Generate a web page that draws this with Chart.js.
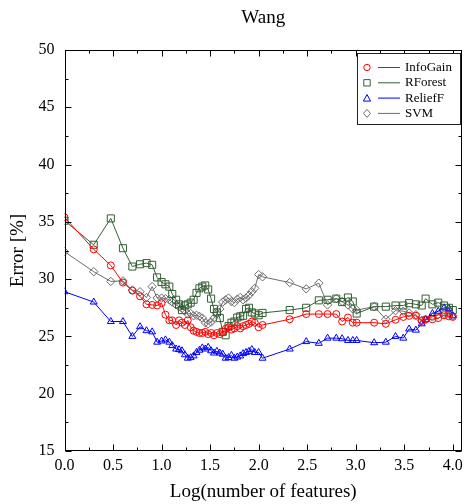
<!DOCTYPE html>
<html>
<head>
<meta charset="utf-8">
<script src="https://cdn.jsdelivr.net/npm/chart.js@4/dist/chart.umd.min.js"></script>
<style>
  html, body { margin: 0; padding: 0; background: #fff; }
  canvas { display: block; }
</style>
</head>
<body>
<canvas id="c" width="468" height="504"></canvas>
<script>
// ---- data ----
const xs = [0, 0.301, 0.477, 0.602, 0.699, 0.778, 0.845, 0.903, 0.954, 1.0,
  1.04, 1.08, 1.11, 1.15, 1.18, 1.21, 1.24, 1.27, 1.30, 1.33,
  1.36, 1.39, 1.42, 1.45, 1.48, 1.51, 1.54, 1.57, 1.60, 1.63,
  1.66, 1.69, 1.72, 1.75, 1.78, 1.81, 1.84, 1.87, 1.90, 1.93,
  1.96, 2.0, 2.04, 2.32, 2.49, 2.62, 2.71, 2.80, 2.86, 2.92,
  2.97, 3.01, 3.19, 3.31, 3.41, 3.49, 3.55, 3.62, 3.68, 3.72,
  3.79, 3.85, 3.91, 3.96, 4.0];

const infoGain = [35.4, 32.6, 31.2, 29.7, 29.0, 28.5, 27.8, 27.75, 27.7, 27.9,
  26.9, 26.4, 26.4, 26.0, 26.4, 26.2, 26.0, 26.4, 25.8, 25.5,
  25.4, 25.3, 25.3, 25.4, 25.2, 25.3, 25.1, 25.3, 25.2, 25.4,
  25.65, 25.8, 25.6, 25.7, 25.9, 25.7, 25.9, 26.0, 26.1, 26.3,
  26.2, 25.8, 26.0, 26.5, 26.95, 26.95, 26.95, 26.95, 26.3, 26.65,
  26.2, 26.2, 26.2, 26.1, 26.45, 26.7, 26.8, 26.8, 26.35, 26.5,
  26.5, 26.6, 26.85, 26.75, 26.7];

const rForest = [35.1, 33.0, 35.3, 32.7, 31.1, 31.3, 31.4, 31.25, 30.15, 29.75,
  29.55, 29.35, 28.7, 28.2, 27.8, 27.3, 27.7, 27.8, 27.95, 28.2,
  28.8, 29.2, 29.35, 29.45, 29.1, 28.3, 27.4, 27.1, 26.6, 25.4,
  25.1, 25.9, 26.2, 26.3, 26.65, 26.75, 26.8, 27.4, 27.5, 27.1,
  27.0, 26.85, 27.05, 27.3, 27.5, 28.15, 28.2, 28.3, 28.0, 28.4,
  28.05, 27.0, 27.6, 27.6, 27.7, 27.7, 27.9, 27.8, 27.7, 28.3,
  27.8, 27.95, 27.7, 27.5, 27.3];

const reliefF = [28.9, 28.0, 26.3, 26.3, 25.0, 25.85, 25.5, 25.4, 24.5, 24.6,
  24.7, 24.5, 24.2, 23.9, 23.85, 23.75, 23.4, 23.1, 23.15, 23.3,
  23.6, 23.8, 24.0, 23.9, 24.05, 23.75, 23.55, 23.7, 23.55, 23.45,
  23.1, 23.15, 23.35, 23.1, 23.2, 23.3, 23.5, 23.6, 23.7, 23.85,
  23.6, 23.6, 23.1, 23.9, 24.55, 24.4, 24.85, 24.85, 24.8, 24.65,
  24.65, 24.65, 24.45, 24.5, 25.0, 24.85, 25.65, 25.55, 26.1, 26.45,
  27.0, 27.2, 27.5, 27.45, 26.8];

const svm = [32.4, 30.65, 29.8, 29.85, 29.05, 28.9, 28.4, 29.35, 28.35, 28.35,
  28.3, 28.2, 28.0, 27.75, 27.6, 27.45, 27.25, 26.95, 27.0, 26.8,
  26.85, 26.75, 26.6, 26.2, 26.1, 26.25, 26.6, 27.0, 27.4, 28.0,
  28.2, 28.35, 28.05, 27.95, 28.25, 28.4, 28.2, 28.35, 28.6, 28.9,
  29.2, 30.4, 30.2, 29.7, 29.15, 29.65, 27.75, 28.3, 28.05, 27.75,
  27.4, 27.3, 27.6, 26.5, 27.25, 27.2, 27.05, 26.9, 26.4, 26.45,
  26.7, 26.9, 27.0, 26.95, 26.8];

const seriesNames = ['InfoGain', 'RForest', 'ReliefF', 'SVM'];
const xTickLabels = [0, 0.5, 1.0, 1.5, 2.0, 2.5, 3.0, 3.5, 4.0];
const yTickLabels = [15, 20, 25, 30, 35, 40, 45, 50];

// ---- styles ----
const SERIF = "'Liberation Serif', 'Times New Roman', serif";
const styles = [
  { color: '#ff0000', point: 'circle', radius: 3.5 },
  { color: '#335e33', point: 'rect', radius: 5 },
  { color: '#0000ff', point: 'triangle', radius: 4 },
  { color: '#6c6c6c', point: 'rectRot', radius: 4.2 }
];
const seriesValues = [infoGain, rForest, reliefF, svm];

const datasets = seriesValues.map((ys, i) => ({
  label: seriesNames[i],
  data: ys.map((y, k) => ({ x: xs[k], y })),
  showLine: true,
  borderColor: styles[i].color,
  borderWidth: 1,
  pointStyle: styles[i].point,
  pointRadius: styles[i].radius,
  pointBorderColor: styles[i].color,
  pointBackgroundColor: 'rgba(255,255,255,0)',
  pointBorderWidth: 1,
  tension: 0
}));

// frame, inward ticks and legend
const decor = {
  id: 'decor',
  afterDraw(chart) {
    const { ctx, chartArea: a, scales: { x, y } } = chart;
    ctx.save();
    ctx.strokeStyle = '#000';
    ctx.lineWidth = 1;
    const L = Math.round(a.left) + 0.5, R = Math.round(a.right) - 0.5;
    const T = Math.round(a.top) + 0.5, B = Math.round(a.bottom) - 0.5;
    ctx.strokeRect(L, T, R - L, B - T);
    ctx.beginPath();
    for (let v = 0; v <= 4.0001; v += 0.25) {
      const px = Math.round(x.getPixelForValue(v)) + 0.5;
      const len = Math.abs(v * 2 - Math.round(v * 2)) < 1e-6 ? 6 : 3;
      ctx.moveTo(px, B); ctx.lineTo(px, B - len);
      ctx.moveTo(px, T); ctx.lineTo(px, T + len);
    }
    for (let v = 15; v <= 50.001; v += 2.5) {
      const py = Math.round(y.getPixelForValue(v)) + 0.5;
      const len = Math.abs(v / 5 - Math.round(v / 5)) < 1e-6 ? 6 : 3;
      ctx.moveTo(L, py); ctx.lineTo(L + len, py);
      ctx.moveTo(R, py); ctx.lineTo(R - len, py);
    }
    ctx.stroke();

    // legend box
    const bx = 357.5, by = 53.5, bw = 103, bh = 71;
    ctx.fillStyle = '#fff';
    ctx.fillRect(bx, by, bw, bh);
    ctx.strokeStyle = '#222';
    ctx.strokeRect(bx, by, bw, bh);
    ctx.font = '13px ' + SERIF;
    ctx.textBaseline = 'middle';
    ctx.textAlign = 'left';
    seriesNames.forEach((name, i) => {
      const ry = 67.5 + i * 15.3;
      const s = styles[i];
      ctx.strokeStyle = s.color;
      ctx.lineWidth = 1;
      ctx.beginPath();
      ctx.moveTo(378, ry); ctx.lineTo(400, ry);
      ctx.stroke();
      const mx = 367;
      ctx.beginPath();
      if (s.point === 'circle') {
        ctx.arc(mx, ry, 3.2, 0, Math.PI * 2);
      } else if (s.point === 'rect') {
        ctx.rect(mx - 3.2, ry - 3.2, 6.4, 6.4);
      } else if (s.point === 'triangle') {
        ctx.moveTo(mx - 3.6, ry + 3); ctx.lineTo(mx + 3.6, ry + 3); ctx.lineTo(mx, ry - 3.6); ctx.closePath();
      } else {
        ctx.moveTo(mx, ry - 4); ctx.lineTo(mx + 3.5, ry); ctx.lineTo(mx, ry + 4); ctx.lineTo(mx - 3.5, ry); ctx.closePath();
      }
      ctx.stroke();
      ctx.fillStyle = '#000';
      ctx.fillText(name, 405, ry);
    });
    ctx.restore();
  }
};

new Chart(document.getElementById('c'), {
  type: 'scatter',
  data: { datasets },
  options: {
    responsive: false,
    animation: false,
    devicePixelRatio: 1,
    layout: { padding: { left: 0, right: 2, top: 0, bottom: 0 } },
    plugins: {
      legend: { display: false },
      tooltip: { enabled: false },
      title: {
        display: true,
        text: 'Wang',
        fullSize: false,
        color: '#000',
        font: { family: SERIF, size: 19, weight: 'normal' },
        padding: { top: 7, bottom: 20.2 }
      }
    },
    scales: {
      x: {
        type: 'linear',
        position: 'bottom',
        min: 0,
        max: 4.095,
        afterBuildTicks: s => { s.ticks = xTickLabels.map(v => ({ value: v })); },
        afterFit: s => { s.height = 53; },
        ticks: {
          callback: v => Number(v).toFixed(1),
          color: '#000',
          font: { family: SERIF, size: 16 },
          padding: 5,
          maxRotation: 0,
          autoSkip: false
        },
        grid: { display: false, drawTicks: false },
        border: { display: false },
        title: {
          display: true,
          text: 'Log(number of features)',
          color: '#000',
          font: { family: SERIF, size: 19 },
          padding: { top: 0, bottom: 1 }
        }
      },
      y: {
        type: 'linear',
        min: 15,
        max: 50,
        afterBuildTicks: s => { s.ticks = yTickLabels.map(v => ({ value: v })); },
        afterFit: s => { s.width = 64.5; },
        ticks: {
          callback: v => String(v),
          color: '#000',
          font: { family: SERIF, size: 16 },
          padding: 10,
          autoSkip: false
        },
        grid: { display: false, drawTicks: false },
        border: { display: false },
        title: {
          display: true,
          text: 'Error [%]',
          color: '#000',
          font: { family: SERIF, size: 19 },
          padding: { top: 6.6, bottom: 0 }
        }
      }
    }
  },
  plugins: [decor]
});
</script>
</body>
</html>
